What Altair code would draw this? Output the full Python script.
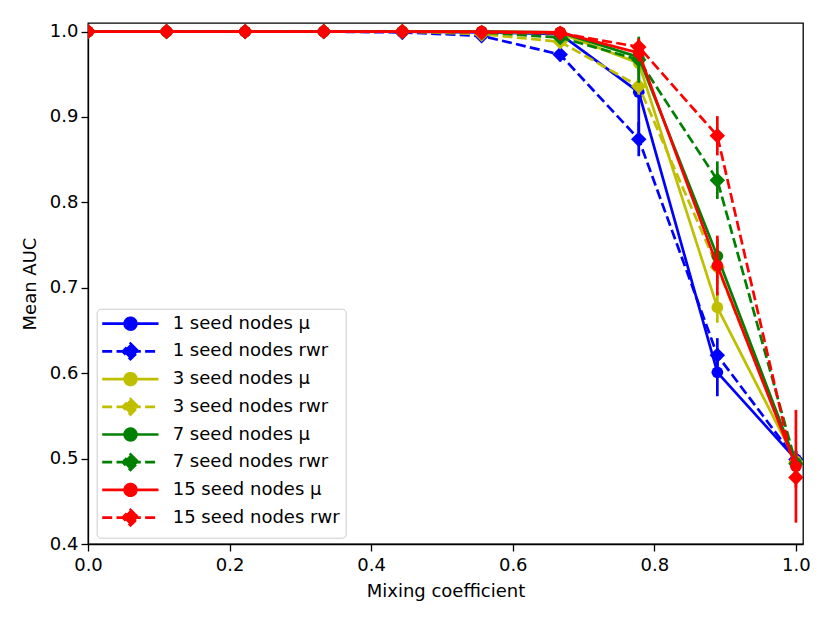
import altair as alt
import pandas as pd

# ---- data ----
mixing = [0.0, 0.111, 0.222, 0.333, 0.444, 0.556, 0.667, 0.778, 0.889, 1.0]

series_names = [
    "1 seed nodes μ", "1 seed nodes rwr",
    "3 seed nodes μ", "3 seed nodes rwr",
    "7 seed nodes μ", "7 seed nodes rwr",
    "15 seed nodes μ", "15 seed nodes rwr",
]

auc_1_mu = [1.0, 1.0, 1.0, 1.0, 1.0, 0.999, 0.997, 0.929, 0.601, 0.499]
err_1_mu = [0.0, 0.0, 0.0, 0.0, 0.0, 0.002, 0.004, 0.050, 0.028, 0.010]
auc_1_rwr = [1.0, 1.0, 1.0, 1.0, 0.999, 0.995, 0.973, 0.874, 0.621, 0.499]
err_1_rwr = [0.0, 0.0, 0.0, 0.0, 0.001, 0.004, 0.008, 0.020, 0.020, 0.010]
auc_3_mu = [1.0, 1.0, 1.0, 1.0, 1.0, 1.0, 0.998, 0.963, 0.677, 0.497]
err_3_mu = [0.0, 0.0, 0.0, 0.0, 0.0, 0.001, 0.003, 0.028, 0.018, 0.010]
auc_3_rwr = [1.0, 1.0, 1.0, 1.0, 1.0, 0.997, 0.988, 0.936, 0.724, 0.496]
err_3_rwr = [0.0, 0.0, 0.0, 0.0, 0.0, 0.002, 0.005, 0.010, 0.020, 0.010]
auc_7_mu = [1.0, 1.0, 1.0, 1.0, 1.0, 1.0, 0.999, 0.970, 0.737, 0.495]
err_7_mu = [0.0, 0.0, 0.0, 0.0, 0.0, 0.001, 0.003, 0.015, 0.020, 0.010]
auc_7_rwr = [1.0, 1.0, 1.0, 1.0, 1.0, 0.999, 0.993, 0.967, 0.826, 0.494]
err_7_rwr = [0.0, 0.0, 0.0, 0.0, 0.0, 0.001, 0.004, 0.027, 0.022, 0.010]
auc_15_mu = [1.0, 1.0, 1.0, 1.0, 1.0, 1.0, 0.999, 0.975, 0.726, 0.491]
err_15_mu = [0.0, 0.0, 0.0, 0.0, 0.0, 0.001, 0.003, 0.010, 0.035, 0.066]
auc_15_rwr = [1.0, 1.0, 1.0, 1.0, 1.0, 0.999, 0.998, 0.982, 0.878, 0.478]
err_15_rwr = [0.0, 0.0, 0.0, 0.0, 0.0, 0.001, 0.002, 0.010, 0.023, 0.012]

series_values = [auc_1_mu, auc_1_rwr, auc_3_mu, auc_3_rwr,
                 auc_7_mu, auc_7_rwr, auc_15_mu, auc_15_rwr]
series_errors = [err_1_mu, err_1_rwr, err_3_mu, err_3_rwr,
                 err_7_mu, err_7_rwr, err_15_mu, err_15_rwr]

x_ticks = [0.0, 0.2, 0.4, 0.6, 0.8, 1.0]
y_ticks = [0.4, 0.5, 0.6, 0.7, 0.8, 0.9, 1.0]

# ---- styles ----
series_colors = ["#0000ff", "#0000ff", "#bfbf00", "#bfbf00",
                 "#008000", "#008000", "#ff0000", "#ff0000"]
DASH = [10, 4.3]
SOLID = [1, 0]
LW = 2.7
FONT = "DejaVu Sans"

rows = []
for name, vals, errs in zip(series_names, series_values, series_errors):
    for xv, yv, ev in zip(mixing, vals, errs):
        rows.append({"series": name, "mix": xv, "auc": yv,
                     "lo": yv - ev, "hi": yv + ev})
df = pd.DataFrame(rows)

# legend symbols: line + marker, in symbol units (1 unit = 5px at size 100)
LINE = "M-1.9,0L9.36,0"
CIRC = "M4.93,0A1.17,1.17,0,1,1,2.59,0A1.17,1.17,0,1,1,4.93,0Z"
DIAM = "M3.76,-1.55L5.31,0L3.76,1.55L2.21,0Z"
legend_shapes = [LINE + (DIAM if "rwr" in n else CIRC) for n in series_names]
legend_dashes = [DASH if "rwr" in n else SOLID for n in series_names]

legend = alt.Legend(
    title=None,
    orient="none",
    legendX=8.7,
    legendY=285.7,
    padding=6,
    labelFont=FONT,
    labelFontSize=18,
    labelColor="black",
    labelOffset=52,
    labelLimit=0,
    symbolSize=100,
    symbolStrokeWidth=LW,
    symbolOpacity=1,
    rowPadding=1.7,
    strokeColor="#cccccc",
    fillColor="white",
    cornerRadius=4,
)

xenc = alt.X("mix:Q",
             scale=alt.Scale(domain=[0, 1.01], nice=False, zero=False),
             axis=alt.Axis(values=x_ticks, format=".1f", title="Mixing coefficient",
                           labelFlush=False, labelPadding=5, titlePadding=8))
yenc = alt.Y("auc:Q",
             scale=alt.Scale(domain=[0.4, 1.01], nice=False, zero=False),
             axis=alt.Axis(values=y_ticks, format=".1f", title="Mean AUC",
                           labelFlush=False, labelPadding=3, titlePadding=10))

layers = []
for name, col in zip(series_names, series_colors):
    dashed = "rwr" in name
    base = alt.Chart().transform_filter(alt.datum.series == name)
    line_kw = dict(strokeWidth=LW, clip=True, color=col)
    if dashed:
        line_kw["strokeDash"] = DASH
    layers.append(base.mark_line(**line_kw).encode(x=xenc, y=yenc))
    layers.append(base.mark_rule(strokeWidth=LW, clip=True, color=col).encode(
        x=xenc, y="lo:Q", y2="hi:Q"))
    layers.append(base.mark_point(
        shape="diamond" if dashed else "circle",
        size=240 if dashed else 137, color=col,
        filled=True, opacity=1, clip=True).encode(x=xenc, y=yenc))

# invisible layer that only carries the legend
legend_layer = alt.Chart().mark_point(filled=True, opacity=0, clip=True).encode(
    x=xenc, y=yenc,
    fill=alt.Fill("series:N", scale=alt.Scale(domain=series_names, range=series_colors), legend=legend),
    stroke=alt.Stroke("series:N", scale=alt.Scale(domain=series_names, range=series_colors), legend=legend),
    shape=alt.Shape("series:N", scale=alt.Scale(domain=series_names, range=legend_shapes), legend=legend),
    strokeDash=alt.StrokeDash("series:N", scale=alt.Scale(domain=series_names, range=legend_dashes), legend=legend),
)
layers.append(legend_layer)

chart = alt.layer(*layers, data=df).properties(
    width=715,
    height=521,
    autosize=alt.AutoSizeParams(type="none"),
    padding={"left": 80, "top": 15, "right": 15, "bottom": 60},
    background="white",
).configure_view(
    stroke="black", strokeWidth=1.3
).configure_axis(
    grid=False,
    labelFont=FONT, titleFont=FONT,
    labelFontSize=18, titleFontSize=18,
    titleFontWeight="normal",
    labelColor="black", titleColor="black",
    tickColor="black", domainColor="black",
    tickSize=7, tickWidth=1.3, domainWidth=1.3,
)

chart.save("out.html", embed_options={"renderer": "svg", "actions": False})
